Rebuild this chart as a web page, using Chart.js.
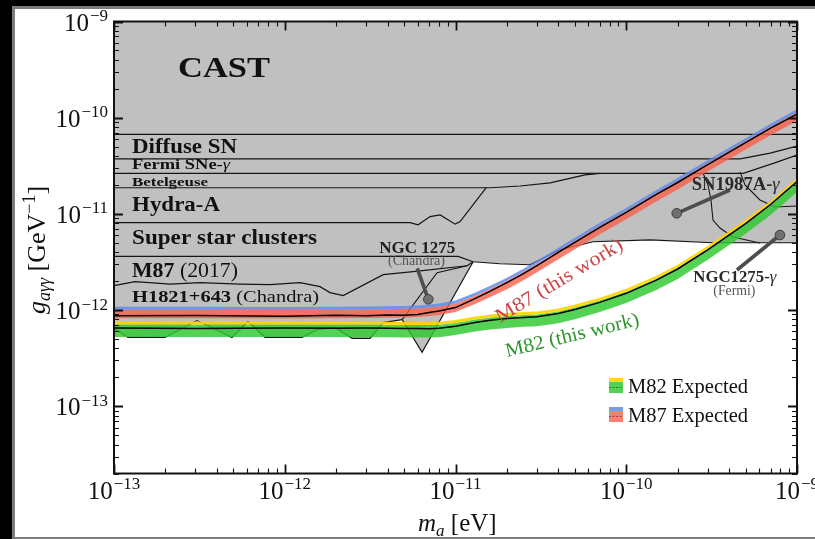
<!DOCTYPE html>
<html>
<head>
<meta charset="utf-8">
<script src="https://cdn.jsdelivr.net/npm/chart.js@4.4.0/dist/chart.umd.min.js"></script>
<style>
  html, body { margin: 0; padding: 0; background: #000; }
  #c { position: absolute; left: 0; top: 0; }
</style>
</head>
<body>
<canvas id="c" width="815" height="539"></canvas>
<script>
// ---------- axion mass grid (eV) shared by the expected bands and observed limits ----------
const massGrid = [1e-13, 3e-13, 1e-12, 2e-12, 3e-12, 4e-12, 5e-12, 6e-12, 7e-12, 8e-12,
  1e-11, 1.3e-11, 1.6e-11, 2e-11, 2.5e-11, 3e-11, 4e-11, 5e-11, 7e-11,
  1e-10, 1.5e-10, 2e-10, 3e-10, 5e-10, 7e-10, 1e-9];

// M87: upper edge of the 2-sigma strip, 1-sigma upper edge, lower edge, observed limit (GeV^-1)
const m87Upper = [1.08e-12, 1.08e-12, 1.075e-12, 1.085e-12, 1.09e-12, 1.095e-12, 1.105e-12, 1.118e-12, 1.14e-12, 1.168e-12,
  1.254e-12, 1.518e-12, 1.794e-12, 2.172e-12, 2.692e-12, 3.258e-12, 4.442e-12, 5.642e-12, 8.065e-12,
  1.154e-11, 1.773e-11, 2.36e-11, 3.627e-11, 6.131e-11, 8.665e-11, 1.225e-10];
const m87Mid = [1.005e-12, 1.005e-12, 1.0e-12, 1.01e-12, 1.015e-12, 1.02e-12, 1.03e-12, 1.04e-12, 1.062e-12, 1.087e-12,
  1.168e-12, 1.413e-12, 1.67e-12, 2.021e-12, 2.506e-12, 3.033e-12, 4.135e-12, 5.251e-12, 7.507e-12,
  1.074e-11, 1.65e-11, 2.198e-11, 3.377e-11, 5.708e-11, 8.065e-11, 1.14e-10];
const m87Lower = [8.2e-13, 8.2e-13, 8.16e-13, 8.24e-13, 8.28e-13, 8.32e-13, 8.39e-13, 8.49e-13, 8.67e-13, 8.87e-13,
  9.53e-13, 1.154e-12, 1.364e-12, 1.651e-12, 2.046e-12, 2.476e-12, 3.377e-12, 4.286e-12, 6.133e-12,
  8.77e-12, 1.347e-11, 1.795e-11, 2.756e-11, 4.66e-11, 6.586e-11, 9.31e-11];
const m87Observed = [8.71e-13, 8.8e-13, 8.65e-13, 8.82e-13, 8.75e-13, 8.9e-13, 8.85e-13, 9.0e-13, 9.42e-13, 9.76e-13,
  1.061e-12, 1.316e-12, 1.573e-12, 1.928e-12, 2.388e-12, 2.891e-12, 3.99e-12, 5.066e-12, 7.244e-12,
  1.036e-11, 1.592e-11, 2.12e-11, 3.258e-11, 5.507e-11, 7.783e-11, 1.087e-10];

// M82: same layout
const m82Upper = [7.6e-13, 7.6e-13, 7.6e-13, 7.6e-13, 7.58e-13, 7.55e-13, 7.51e-13, 7.51e-13, 7.51e-13, 7.55e-13,
  7.88e-13, 8.56e-13, 8.98e-13, 9.31e-13, 9.53e-13, 9.65e-13, 1.036e-12, 1.14e-12, 1.347e-12,
  1.67e-12, 2.278e-12, 2.961e-12, 4.659e-12, 8.67e-12, 1.363e-11, 2.36e-11];
const m82Mid = [7.08e-13, 7.08e-13, 7.08e-13, 7.08e-13, 7.06e-13, 7.03e-13, 6.99e-13, 6.99e-13, 6.99e-13, 7.03e-13,
  7.33e-13, 7.97e-13, 8.37e-13, 8.67e-13, 8.88e-13, 8.98e-13, 9.65e-13, 1.061e-12, 1.254e-12,
  1.555e-12, 2.12e-12, 2.756e-12, 4.337e-12, 8.065e-12, 1.269e-11, 2.198e-11];
const m82Lower = [5.25e-13, 5.25e-13, 5.25e-13, 5.25e-13, 5.23e-13, 5.21e-13, 5.19e-13, 5.19e-13, 5.19e-13, 5.21e-13,
  5.51e-13, 5.99e-13, 6.28e-13, 6.51e-13, 6.7e-13, 6.78e-13, 7.3e-13, 8.05e-13, 9.53e-13,
  1.185e-12, 1.62e-12, 2.11e-12, 3.329e-12, 6.205e-12, 9.76e-12, 1.69e-11];
const m82Observed = [6.51e-13, 6.45e-13, 6.53e-13, 6.48e-13, 6.5e-13, 6.46e-13, 6.43e-13, 6.45e-13, 6.41e-13, 6.46e-13,
  6.78e-13, 7.42e-13, 7.82e-13, 8.17e-13, 8.37e-13, 8.51e-13, 9.2e-13, 1.012e-12, 1.202e-12,
  1.493e-12, 2.046e-12, 2.673e-12, 4.235e-12, 7.93e-12, 1.251e-11, 2.172e-11];

// ---------- existing bounds (mass in eV, coupling in GeV^-1) ----------
const castMass = [1e-13, 1e-9];
const castG = [6.7e-11, 6.7e-11];
const diffuseSnMass = [1e-13, 4.65e-10, 6.97e-10, 1e-9];
const diffuseSnG = [3.73e-11, 3.73e-11, 4.29e-11, 5.07e-11];
const fermiSnMass = [1e-13, 4.84e-10, 7.26e-10, 1e-9];
const fermiSnG = [2.64e-11, 2.64e-11, 3.35e-11, 4.09e-11];
const betelgeuseMass = [1e-13, 1.6e-11, 2.39e-11, 3.58e-11, 5.74e-11, 7.03e-11];
const betelgeuseG = [1.87e-11, 1.87e-11, 1.95e-11, 2.1e-11, 2.54e-11, 2.64e-11];
const hydraMass = [1e-13, 5.42e-12, 6.04e-12, 7.1e-12, 8.13e-12, 9.95e-12, 1.064e-11, 1.51e-11];
const hydraG = [8.12e-12, 8.12e-12, 7.69e-12, 9.38e-12, 9.76e-12, 7.82e-12, 8.32e-12, 1.86e-11];
const sscMass = [1e-13, 1.035e-11, 1.268e-11, 1.82e-11, 2.73e-11, 4.1e-11, 6.4e-11, 1.38e-10, 3.23e-10, 1e-9];
const sscG = [3.61e-12, 3.61e-12, 3.18e-12, 3.03e-12, 2.96e-12, 4.24e-12, 5.13e-12, 5.38e-12, 5.01e-12, 5.01e-12];
const m87OldMass = [1e-13, 1.327e-13, 2.13e-13, 3.19e-13, 5.47e-13, 8.2e-13, 1.23e-12, 1.61e-12, 1.84e-12, 2.2e-12,
  3.77e-12, 5.65e-12, 1.17e-11, 1.268e-11];
const m87OldG = [1.794e-12, 1.974e-12, 1.86e-12, 1.928e-12, 1.86e-12, 1.837e-12, 1.928e-12, 1.752e-12, 1.518e-12, 1.413e-12,
  2.333e-12, 2.506e-12, 2.891e-12, 3.18e-12];
const h1821Mass = [1e-13, 1.208e-13, 1.99e-13, 3.06e-13, 4.91e-13, 6.09e-13, 7.67e-13, 1.262e-12, 1.566e-12, 1.97e-12,
  2.48e-12, 3.16e-12, 3.77e-12, 4.87e-12];
const h1821G = [6.43e-13, 5.19e-13, 5.19e-13, 7.78e-13, 5.19e-13, 7.6e-13, 5.19e-13, 5.19e-13, 6.28e-13, 6.59e-13,
  5.07e-13, 5.07e-13, 7.42e-13, 7.97e-13];
const ngcChandraMass = [4.87e-12, 6.37e-12, 1.268e-11];
const ngcChandraG = [7.97e-13, 3.63e-13, 3.18e-12];
const ngcChandraEdgeMass = [4.87e-12, 7.8e-12, 1.17e-11];
const ngcChandraEdgeG = [7.97e-13, 2.45e-12, 2.891e-12];
const sn1987Mass = [4.64e-10, 4.96e-10, 6.07e-10, 7.43e-10, 1e-9];
const sn1987G = [2.73e-11, 1.996e-11, 1.394e-11, 1.179e-11, 1.208e-11];
const ngcFermiMass = [2.815e-10, 3.01e-10, 3.135e-10, 3.22e-10, 3.54e-10, 4.22e-10, 6.07e-10];
const ngcFermiG = [2.66e-11, 1.996e-11, 1.394e-11, 8.64e-12, 7.13e-12, 5.75e-12, 4.98e-12];

// label pointers: [label end, marker]
const ptrNgcChandraMass = [5.97e-12, 6.93e-12];
const ptrNgcChandraG = [2.72e-12, 1.294e-12];
const ptrSn1987Mass = [4.05e-10, 1.975e-10];
const ptrSn1987G = [1.771e-11, 1.014e-11];
const ptrNgcFermiMass = [4.45e-10, 7.95e-10];
const ptrNgcFermiG = [2.61e-12, 6.03e-12];

// axis decades
const xTickExps = [-13, -12, -11, -10, -9];
const yTickExps = [-13, -12, -11, -10, -9];

// ---------- styling ----------
const GRAY = '#c0c0c0';
const BLUE = 'rgba(95,140,235,0.85)';
const RED = 'rgba(248,95,75,0.8)';
const YELLOW = 'rgba(255,212,0,0.92)';
const GREEN = 'rgba(45,200,45,0.82)';
const SERIF = '"Liberation Serif", "DejaVu Serif", serif';
const B = n => `bold ${n}px ${SERIF}`;
const R = n => `${n}px ${SERIF}`;
const I = n => `italic ${n}px ${SERIF}`;

function pts(ms, gs) { return ms.map((m, i) => ({ x: m, y: gs[i] })); }

const datasets = [];
function add(ds) { datasets.push(Object.assign({ pointRadius: 0, borderWidth: 0, fill: false }, ds)); return datasets.length - 1; }

// excluded regions: opaque fills first, outlines afterwards.
// H1821+643 and the NGC 1275 wedge share one fill so no seam shows where they meet.
const fills = [
  [castMass, castG], [diffuseSnMass, diffuseSnG], [fermiSnMass, fermiSnG], [betelgeuseMass, betelgeuseG],
  [hydraMass, hydraG], [sscMass, sscG], [m87OldMass, m87OldG],
  [h1821Mass.concat(ngcChandraMass.slice(1)), h1821G.concat(ngcChandraG.slice(1))]
];
const outlines = [
  [castMass, castG], [diffuseSnMass, diffuseSnG], [fermiSnMass, fermiSnG], [betelgeuseMass, betelgeuseG],
  [hydraMass, hydraG], [sscMass, sscG], [m87OldMass, m87OldG], [h1821Mass, h1821G], [ngcChandraMass, ngcChandraG]
];
fills.forEach(([m, g]) => add({ data: pts(m, g), fill: 'end', backgroundColor: GRAY, order: 20 }));
outlines.forEach(([m, g]) => add({ data: pts(m, g), borderColor: '#151515', borderWidth: 1.2, order: 15 }));
[[ngcChandraEdgeMass, ngcChandraEdgeG], [sn1987Mass, sn1987G], [ngcFermiMass, ngcFermiG]].forEach(([m, g]) =>
  add({ data: pts(m, g), borderColor: '#151515', borderWidth: 1.1, order: 15 }));

// expected sensitivity bands
const iM87Mid = datasets.length + 1, iM87Low = datasets.length + 2;
add({ data: pts(massGrid, m87Upper), fill: iM87Mid, backgroundColor: BLUE, order: 10 });
add({ data: pts(massGrid, m87Mid), fill: iM87Low, backgroundColor: RED, order: 10 });
add({ data: pts(massGrid, m87Lower), order: 10 });
const iM82Mid = datasets.length + 1, iM82Low = datasets.length + 2;
add({ data: pts(massGrid, m82Upper), fill: iM82Mid, backgroundColor: YELLOW, order: 9 });
add({ data: pts(massGrid, m82Mid), fill: iM82Low, backgroundColor: GREEN, order: 9 });
add({ data: pts(massGrid, m82Lower), order: 9 });

// observed limits
add({ data: pts(massGrid, m87Observed), borderColor: '#000', borderWidth: 1.5, order: 2 });
add({ data: pts(massGrid, m82Observed), borderColor: '#000', borderWidth: 1.5, order: 2 });

// pointers from labels to their regions
[[ptrNgcChandraMass, ptrNgcChandraG], [ptrSn1987Mass, ptrSn1987G], [ptrNgcFermiMass, ptrNgcFermiG]].forEach(([m, g]) => {
  add({ data: pts(m, g), borderColor: '#4d4d4d', borderWidth: 3.6, order: 1 });
  add({ data: pts(m, g), borderColor: '#d4d4d4', borderWidth: 1.2, order: 1 });
  add({ data: [{ x: m[1], y: g[1] }], showLine: false, pointRadius: 4.8, pointBackgroundColor: '#707070',
        pointBorderColor: '#3c3c3c', pointBorderWidth: 1, order: 0 });
});

// ---------- text annotations (axes-fraction positions) ----------
const annotations = [
  { parts: [{ t: 'CAST', f: B(30) }], fx: 0.0937, fy: 0.8772, w: 92 },
  { parts: [{ t: 'Diffuse SN', f: B(20) }], fx: 0.0264, fy: 0.7091, w: 105 },
  { parts: [{ t: 'Fermi SNe-', f: B(14.5) }, { t: 'γ', f: I(14.5) }], fx: 0.0264, fy: 0.6726, w: 98 },
  { parts: [{ t: 'Betelgeuse', f: B(13.5) }], fx: 0.0264, fy: 0.6367, w: 76 },
  { parts: [{ t: 'Hydra-A', f: B(20) }], fx: 0.0264, fy: 0.5814, w: 88 },
  { parts: [{ t: 'Super star clusters', f: B(20) }], fx: 0.0264, fy: 0.5077, w: 185 },
  { parts: [{ t: 'M87', f: B(20) }, { t: ' (2017)', f: R(20) }], fx: 0.0264, fy: 0.4341, w: 106 },
  { parts: [{ t: 'H1821+643', f: B(17) }, { t: ' (Chandra)', f: R(17) }], fx: 0.0264, fy: 0.3788, w: 187 },
  { parts: [{ t: 'NGC 1275', f: B(16) }], fx: 0.3884, fy: 0.4872, w: 76, color: '#222' },
  { parts: [{ t: '(Chandra)', f: R(14) }], fx: 0.4012, fy: 0.4613, w: 57, color: '#555' },
  { parts: [{ t: 'M87 (this work)', f: R(20) }], fx: 0.5652, fy: 0.333, w: 145, color: '#c8464a', rot: -31 },
  { parts: [{ t: 'M82 (this work)', f: R(20) }], fx: 0.5754, fy: 0.2577, w: 137, color: '#2f962f', rot: -13.5 },
  { parts: [{ t: 'SN1987A-', f: B(18) }, { t: 'γ', f: I(18) }], fx: 0.8458, fy: 0.6272, w: 88, color: '#2a2a2a' },
  { parts: [{ t: 'NGC1275-', f: B(16) }, { t: 'γ', f: I(16) }], fx: 0.8482, fy: 0.4237, w: 83, color: '#2a2a2a' },
  { parts: [{ t: '(Fermi)', f: R(14) }], fx: 0.8775, fy: 0.3949, w: 42, color: '#555' },
  { parts: [{ t: 'M82 Expected', f: R(21) }], fx: 0.7526, fy: 0.1781, w: 120 },
  { parts: [{ t: 'M87 Expected', f: R(21) }], fx: 0.7526, fy: 0.1139, w: 120 }
];

function rich(ctx, parts, x, y, width, color, angle) {
  ctx.save();
  ctx.translate(x, y);
  if (angle) ctx.rotate(angle * Math.PI / 180);
  let total = 0;
  parts.forEach(p => { ctx.font = p.f; p.w = ctx.measureText(p.t).width; total += p.w; });
  const s = width ? width / total : 1;
  ctx.scale(s, 1);
  ctx.textAlign = 'left';
  ctx.textBaseline = 'alphabetic';
  let cx = 0;
  parts.forEach(p => {
    ctx.font = p.f;
    ctx.fillStyle = p.c || color || '#111';
    ctx.fillText(p.t, cx, p.dy || 0);
    cx += p.w;
  });
  ctx.restore();
}

function sciLabel(ctx, exp, x, y, align) {
  const s = '\u2212' + Math.abs(exp);
  ctx.font = R(25); const w1 = ctx.measureText('10').width;
  ctx.font = R(17); const w2 = ctx.measureText(s).width;
  const total = w1 + 1 + w2;
  const left = align === 'center' ? x - total / 2 : x - total;
  ctx.fillStyle = '#111';
  ctx.font = R(25); ctx.fillText('10', left, y);
  ctx.font = R(17); ctx.fillText(s, left + w1 + 1, y - 9.5);
}

const figure = {
  id: 'figure',
  beforeDraw(chart) {
    const ctx = chart.ctx;
    ctx.save();
    ctx.fillStyle = '#000'; ctx.fillRect(0, 0, 815, 539);
    ctx.fillStyle = '#7c7c7c'; ctx.fillRect(12, 6, 803, 533);
    ctx.fillStyle = '#fff'; ctx.fillRect(15, 9, 800, 528);
    ctx.restore();
  },
  afterDatasetsDraw(chart) {
    const ctx = chart.ctx, a = chart.chartArea, xs = chart.scales.x, ys = chart.scales.y;
    const W = a.right - a.left, H = a.bottom - a.top;
    ctx.save();

    annotations.forEach(t => rich(ctx, t.parts, a.left + t.fx * W, a.bottom - t.fy * H, t.w, t.color, t.rot));

    // legend swatches
    const sw = (y0, top, bot, dash) => {
      ctx.fillStyle = '#fff'; ctx.fillRect(609, y0, 14, 15);
      ctx.fillStyle = top; ctx.fillRect(609, y0, 14, 4);
      ctx.fillStyle = bot; ctx.fillRect(609, y0 + 4, 14, 11);
      ctx.strokeStyle = dash; ctx.lineWidth = 1; ctx.setLineDash([2, 1.5]);
      ctx.beginPath(); ctx.moveTo(609, y0 + 9.5); ctx.lineTo(623, y0 + 9.5); ctx.stroke();
      ctx.setLineDash([]);
    };
    sw(378, YELLOW, GREEN, '#2f7f2f');
    sw(407, BLUE, RED, '#9a4a40');

    // inward ticks on all four sides
    ctx.strokeStyle = '#111';
    for (let e = -13; e <= -9; e++) {
      for (let k = 1; k <= 9; k++) {
        const v = k * Math.pow(10, e);
        if (v > 1.0001e-9) break;
        const px = Math.round(xs.getPixelForValue(v)) + 0.5;
        const L = k === 1 ? 9 : 5;
        ctx.lineWidth = k === 1 ? 1.8 : 1.1;
        ctx.beginPath();
        ctx.moveTo(px, a.bottom); ctx.lineTo(px, a.bottom - L);
        ctx.moveTo(px, a.top); ctx.lineTo(px, a.top + L);
        ctx.stroke();
      }
    }
    for (let e = -14; e <= -9; e++) {
      for (let k = 1; k <= 9; k++) {
        const v = k * Math.pow(10, e);
        if (v < 1.999e-14 || v > 1.0001e-9) continue;
        const py = Math.round(ys.getPixelForValue(v)) + 0.5;
        const L = k === 1 ? 9 : 5;
        ctx.lineWidth = k === 1 ? 1.8 : 1.1;
        ctx.beginPath();
        ctx.moveTo(a.left, py); ctx.lineTo(a.left + L, py);
        ctx.moveTo(a.right, py); ctx.lineTo(a.right - L, py);
        ctx.stroke();
      }
    }
    ctx.lineWidth = 2;
    ctx.strokeRect(a.left, a.top, W, H);

    // tick labels
    ctx.textAlign = 'left'; ctx.textBaseline = 'alphabetic';
    xTickExps.forEach(e => sciLabel(ctx, e, xs.getPixelForValue(Math.pow(10, e)), a.bottom + 25, 'center'));
    yTickExps.forEach(e => sciLabel(ctx, e, a.left - 6, ys.getPixelForValue(Math.pow(10, e)) + 9, 'right'));

    // axis titles
    rich(ctx, [{ t: 'm', f: I(25) }, { t: 'a', f: I(17), dy: 5 }, { t: ' [eV]', f: R(25) }], 418, 531, 0, '#111');
    ctx.save();
    ctx.translate(45, 250); ctx.rotate(-Math.PI / 2);
    const yParts = [{ t: 'g', f: I(26) }, { t: 'aγγ', f: I(18), dy: 5 }, { t: ' [GeV', f: R(26) },
                    { t: '\u22121', f: R(18), dy: -10 }, { t: ']', f: R(26) }];
    let tw = 0; yParts.forEach(p => { ctx.font = p.f; tw += ctx.measureText(p.t).width; });
    rich(ctx, yParts, -tw / 2, 0, 0, '#111');
    ctx.restore();

    ctx.restore();
  }
};

new Chart(document.getElementById('c').getContext('2d'), {
  type: 'line',
  data: { datasets },
  options: {
    responsive: false,
    animation: false,
    devicePixelRatio: 1,
    layout: { padding: { left: 114, right: 18, top: 21.5, bottom: 65.5 } },
    scales: {
      x: { type: 'logarithmic', min: 1e-13, max: 1e-9, display: false },
      y: { type: 'logarithmic', min: 2e-14, max: 1e-9, display: false }
    },
    elements: { line: { tension: 0 }, point: { radius: 0 } },
    plugins: {
      legend: { display: false },
      tooltip: { enabled: false },
      filler: { drawTime: 'beforeDatasetDraw' }
    }
  },
  plugins: [figure]
});
</script>
</body>
</html>
